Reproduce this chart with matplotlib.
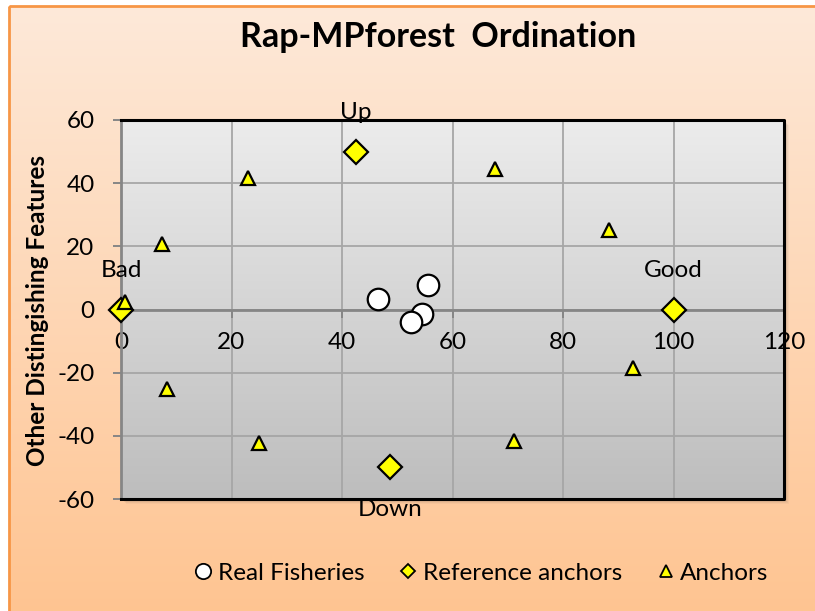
import numpy as np
import matplotlib
matplotlib.use('Agg')
import matplotlib.pyplot as plt
from matplotlib.lines import Line2D
from matplotlib.patches import Rectangle
from matplotlib.colors import LinearSegmentedColormap

plt.rcParams['font.family'] = ['Lato', 'DejaVu Sans']
plt.rcParams['axes.unicode_minus'] = False

# data
fish_x = [46.5, 55.5, 54.5, 52.5]
fish_y = [3.2, 7.6, -1.4, -4.0]

ref_x = [0, 100, 42.5, 48.7]
ref_y = [0, 0, 50, -50]
ref_names = ['Bad', 'Good', 'Up', 'Down']

anc_x = [0.7, 7.5, 22.9, 67.7, 88.3, 8.3, 24.9, 71.2, 92.7]
anc_y = [2.3, 20.6, 41.5, 44.5, 25.3, -25.2, -42.3, -41.6, -18.4]

x_ticks = [0, 20, 40, 60, 80, 100, 120]
y_ticks = [-60, -40, -20, 0, 20, 40, 60]

W, H = 815, 611
FS = 17.5

fig = plt.figure(figsize=(W / 100, H / 100), dpi=100)
fig.patch.set_facecolor('white')

# chart area background: peach gradient with orange frame
bg = fig.add_axes([0, 0, 1, 1], zorder=-5)
bg.set_xlim(0, W)
bg.set_ylim(H, 0)
bg.axis('off')
peach = LinearSegmentedColormap.from_list('peach', ['#fde9d9', '#ffc491'])
grad = np.linspace(0, 1, 256).reshape(-1, 1)
bg.imshow(grad, cmap=peach, extent=[9, W + 5, H + 5, 6], aspect='auto',
          zorder=0)
bg.add_patch(Rectangle((9, 6), W, H, fill=False, edgecolor='#f79646',
                       linewidth=2, zorder=2))
# soft shadow behind plot area
for off, a in [(5, 0.06), (4, 0.08), (3, 0.1)]:
    bg.add_patch(Rectangle((121 + off, 120 + off), 663, 379,
                           facecolor='#7f6a5a', alpha=a, edgecolor='none',
                           zorder=1))

ax = fig.add_axes([121 / W, 1 - 499 / H, 663 / W, 379 / H])
ax.set_facecolor('none')
ax.set_xlim(0, 120)
ax.set_ylim(-60, 60)

# plot area gradient
grey = LinearSegmentedColormap.from_list('grey', ['#bdbdbd', '#ececec'])
ax.imshow(grad, cmap=grey, extent=[0, 120, -60, 60], aspect='auto',
          origin='lower', zorder=0)

ax.set_xticks(x_ticks)
ax.set_yticks(y_ticks)
ax.grid(True, color='#a6a6a6', linewidth=1.3)

# horizontal axis crosses at y = 0
ax.spines['bottom'].set_position(('data', 0))
ax.spines['bottom'].set_color('#868686')
ax.spines['bottom'].set_linewidth(2)
ax.spines['left'].set_color('#868686')
ax.spines['left'].set_linewidth(2)
ax.spines['top'].set_visible(False)
ax.spines['right'].set_visible(False)
ax.add_line(Line2D([0, 1, 1, 0], [1, 1, 0, 0], transform=ax.transAxes,
                   color='black', linewidth=2.2, clip_on=False, zorder=3))

ax.tick_params(axis='both', direction='out', length=6, width=1.4,
               color='#868686', labelsize=FS, labelcolor='black')
ax.tick_params(axis='x', pad=10)
ax.tick_params(axis='y', pad=13)

ax.plot(fish_x, fish_y, 'o', ms=15.5, mfc='white', mec='black', mew=1.6,
        clip_on=False, zorder=4)
ax.plot(ref_x, ref_y, 'D', ms=12, mfc='#ffff00', mec='black', mew=1.6,
        clip_on=False, zorder=5)
ax.plot(anc_x, anc_y, '^', ms=9.5, mfc='#ffff00', mec='black', mew=1.6,
        clip_on=False, zorder=6)

for x, y, name in zip(ref_x, ref_y, ref_names):
    dy = -30 if y < 0 else 28
    ax.annotate(name, (x, y), xytext=(0, dy), textcoords='offset points',
                ha='center', va='center', fontsize=FS,
                annotation_clip=False, zorder=7)

fig.text(438 / W, 1 - 37 / H, 'Rap-MPforest  Ordination', ha='center',
         va='center', fontsize=24.5, fontweight='bold')
fig.text(38 / W, 1 - 310 / H, 'Other Distingishing Features', ha='center',
         va='center', rotation=90, fontsize=17.5, fontweight='bold')

handles = [
    Line2D([], [], linestyle='none', marker='o', ms=11, mfc='white',
           mec='black', mew=1.3),
    Line2D([], [], linestyle='none', marker='D', ms=7.5, mfc='#ffff00',
           mec='black', mew=1.3),
    Line2D([], [], linestyle='none', marker='^', ms=8, mfc='#ffff00',
           mec='black', mew=1.3),
]
fig.legend(handles, ['Real Fisheries', 'Reference anchors', 'Anchors'],
           loc='center', bbox_to_anchor=(481 / W, 1 - 573 / H), ncol=3,
           frameon=False, fontsize=FS, handlelength=0.8, handletextpad=0.2,
           columnspacing=1.4)

fig.savefig('out.png', dpi=100)
